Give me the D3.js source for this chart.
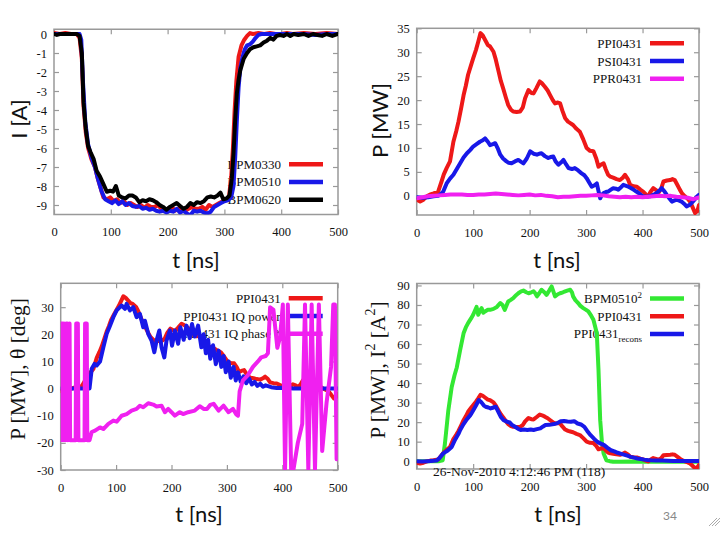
<!DOCTYPE html>
<html><head><meta charset="utf-8">
<script src="https://cdn.jsdelivr.net/npm/d3@7"></script>
<style>body{margin:0;background:#fff}svg{display:block}</style>
</head><body><svg id="c" width="720" height="540"></svg>
<script>
// ---------- data ----------
const xTicks = [0,100,200,300,400,500];
const yTicks1 = [0,-1,-2,-3,-4,-5,-6,-7,-8,-9];
const yTicks2 = [0,5,10,15,20,25,30,35];
const yTicks3 = [-30,-20,-10,0,10,20,30];
const yTicks4 = [0,10,20,30,40,50,60,70,80,90];

// Panel 1: I [A]
const bpm0330 = [[0,0.05],[10,0],[20,0.05],[30,0],[40,0],[45,-0.2],[49,-1.3],[52,-3.8],[56,-5.2],[60,-6],[66,-6.6],[72,-7],[77,-7.6],[82,-8.1],[87,-8.6],[93,-8.7],[99,-8.6],[105,-8.8],[111,-8.7],[117,-8.9],[123,-8.8],[129,-9.0],[135,-8.9],[141,-9.0],[147,-9.1],[153,-9.0],[159,-9.15],[165,-9.0],[171,-9.1],[177,-9.1],[183,-9.0],[189,-9.2],[195,-9.25],[201,-9.2],[207,-9.1],[213,-9.3],[219,-9.2],[225,-9.15],[231,-9.3],[237,-9.2],[243,-9.1],[249,-9.2],[255,-9.2],[261,-9.1],[267,-9.25],[273,-9.0],[279,-9.1],[285,-9.0],[291,-8.9],[297,-8.8],[303,-8.7],[308,-8.6],[312,-7.5],[315,-6],[318,-4],[321,-2.5],[325,-1.2],[330,-0.6],[335,-0.3],[340,-0.1],[345,0.05],[350,0],[360,0.05],[370,0],[380,0.05],[390,0],[400,0],[410,0.05],[420,0],[440,0.05],[460,0],[480,0.05],[500,0]];
const bpm0510 = [[0,0],[20,0],[45,0],[48,-0.3],[51,-2.5],[55,-4.6],[60,-5.8],[66,-6.5],[72,-7],[78,-7.7],[84,-8.3],[90,-8.7],[96,-8.8],[102,-8.9],[108,-8.75],[114,-8.95],[120,-8.8],[126,-9.0],[132,-8.9],[138,-9.05],[144,-9.1],[150,-9.05],[156,-9.2],[162,-9.15],[168,-9.25],[174,-9.2],[180,-9.3],[186,-9.35],[192,-9.3],[198,-9.4],[204,-9.3],[210,-9.35],[216,-9.2],[222,-9.4],[228,-9.3],[234,-9.45],[240,-9.55],[246,-9.3],[252,-9.35],[258,-9.3],[264,-9.4],[270,-9.45],[276,-9.35],[282,-9.1],[288,-9.0],[294,-8.9],[300,-8.8],[306,-8.75],[312,-8.6],[316,-8],[319,-6.5],[322,-4.5],[325,-2.8],[328,-1.8],[332,-1.2],[336,-0.8],[340,-0.6],[345,-0.55],[350,-0.4],[355,-0.2],[360,-0.05],[365,0],[380,0],[400,0],[420,0],[440,0],[460,-0.05],[480,0],[500,0]];
const bpm0620 = [[0,0],[5,-0.05],[10,0],[20,0],[30,0],[40,0],[45,-0.1],[49,-1],[52,-3.6],[56,-5],[60,-5.9],[64,-6.2],[70,-6.6],[75,-7.2],[81,-7.5],[87,-7.9],[93,-8.3],[99,-8.25],[104,-8.3],[109,-8.0],[114,-8.5],[120,-8.6],[126,-8.65],[132,-8.5],[138,-8.5],[144,-8.6],[150,-8.85],[156,-8.75],[162,-8.8],[168,-8.7],[174,-8.75],[180,-8.85],[186,-9.0],[192,-9.1],[198,-9.25],[204,-9.1],[210,-9.0],[216,-8.9],[222,-9.05],[228,-9.2],[234,-9.1],[240,-8.9],[246,-9.0],[252,-8.85],[258,-8.9],[264,-8.8],[270,-8.6],[276,-8.55],[282,-8.6],[288,-8.5],[293,-8.35],[298,-8.7],[304,-8.65],[309,-8.5],[313,-7.6],[316,-6.3],[319,-4.5],[322,-3.1],[325,-2.4],[328,-1.9],[334,-1.3],[340,-1.0],[345,-0.8],[351,-0.7],[357,-0.65],[363,-0.6],[369,-0.45],[375,-0.35],[381,-0.2],[386,-0.3],[392,-0.1],[398,-0.05],[404,-0.1],[410,0],[416,-0.1],[422,0],[430,-0.05],[440,0],[448,-0.1],[456,0],[464,-0.05],[472,-0.1],[480,0],[490,-0.1],[500,0]];

// Panel 2: P [MW]
const ppi0431 = [[0,-0.8],[6,-1.2],[12,-0.8],[18,-0.1],[24,0.3],[30,0.5],[38,0.9],[44,3],[48,4.5],[53,5.8],[59,7.2],[65,11.3],[70,13.5],[74,15.5],[79,18.5],[83,21],[87,23],[91,25.3],[96,27.2],[100,28.7],[105,30.5],[109,32.2],[113,34],[117,33.5],[121,32.6],[126,31.5],[130,31.2],[136,30.1],[140,28.5],[145,26],[149,24],[153,22.5],[158,20.5],[162,19],[167,18],[171,17.6],[177,17.5],[183,17.6],[188,18.5],[192,20.4],[198,22.1],[203,21.5],[207,21.4],[212,22.5],[218,23.9],[222,23.5],[227,22.8],[232,22],[236,21.1],[241,20],[245,19.3],[250,19.5],[254,19.3],[258,17.8],[263,16.2],[268,15.5],[272,15.2],[277,14.8],[283,14],[289,13.4],[295,11.8],[301,10],[307,9.4],[313,9.3],[318,7.8],[322,6.1],[326,6.5],[331,6.8],[335,5.5],[339,4.4],[343,4],[348,3.8],[354,3.5],[360,3.3],[365,3.8],[369,4.4],[374,3.5],[378,2.3],[384,2],[390,1.9],[396,1.3],[401,0.9],[406,0.3],[410,-0.1],[414,0.8],[419,1.6],[424,1.2],[428,0.6],[433,1.5],[437,3],[443,3.2],[449,3.3],[453,3.5],[457,3.3],[462,2.2],[466,1.3],[470,0.5],[475,-0.1],[480,-0.6],[484,-1.2],[488,-2.2],[493,-3.6],[497,-3.2],[500,-1.9]];
const psi0431 = [[0,-0.3],[10,-0.4],[20,-0.3],[30,-0.1],[38,0],[43,0.4],[47,0.9],[53,2.6],[59,3.6],[65,4.4],[71,5.6],[77,6.8],[83,8],[89,8.9],[95,9.6],[100,10.3],[106,10.8],[112,11.3],[117,11.6],[121,12],[126,11.3],[130,10.6],[135,10.8],[139,11],[144,9.8],[148,8.6],[153,7.8],[159,7.2],[163,6.9],[168,6.8],[174,7.2],[180,7.5],[185,7.1],[189,6.8],[195,7.8],[201,9.3],[207,8.8],[213,8.6],[217,8.8],[221,8.9],[227,8.3],[233,7.9],[237,8.1],[242,8.2],[246,7.2],[251,6.5],[256,7],[260,7.5],[265,6.5],[269,5.8],[275,5.6],[280,5.8],[286,5.3],[292,4.7],[297,4.3],[301,3.7],[306,2.7],[310,1.9],[315,2.2],[319,2.6],[322,1],[325,-0.5],[328,0.2],[331,0.6],[335,0.8],[339,0.9],[344,1.3],[348,1.6],[353,1.5],[357,1.3],[362,1.8],[366,2.3],[371,2.1],[375,1.9],[380,1.6],[384,1.3],[389,0.9],[393,0.6],[397,0.2],[401,-0.1],[407,-0.2],[413,-0.1],[419,0.2],[425,0.6],[430,1.1],[434,1.6],[439,0.9],[443,0.2],[448,-0.6],[452,-1.2],[456,-1],[460,-0.8],[465,-1],[469,-1.2],[474,-1.7],[478,-2.2],[483,-1.9],[487,-1.5],[492,-0.8],[496,-0.2],[500,0.2]];
const ppr0431 = [[0,-0.5],[10,-0.3],[20,-0.1],[30,0],[40,0.1],[50,0.2],[60,0.3],[70,0.3],[80,0.3],[90,0.2],[100,0.2],[110,0.3],[120,0.3],[130,0.4],[140,0.5],[150,0.4],[160,0.3],[170,0.2],[180,0.1],[190,0.2],[200,0.3],[210,0.1],[220,0.2],[230,0],[240,-0.1],[250,-0.3],[260,-0.2],[270,-0.2],[280,-0.1],[290,0],[300,0],[310,0.1],[320,0.2],[330,0.1],[340,-0.1],[350,-0.2],[360,-0.3],[370,-0.2],[380,-0.3],[390,-0.2],[400,-0.3],[410,-0.2],[420,-0.1],[430,0],[440,-0.1],[450,0],[460,-0.2],[470,-0.3],[480,-0.4],[490,-0.7],[500,-0.3]];

// Panel 3: IQ power / phase
const iqPower = [[0,0],[20,0],[40,0],[52,0],[56,7.3],[61,9.1],[65,8.5],[71,10],[77,15.2],[83,20.2],[89,23.2],[95,26.3],[101,28.8],[107,30],[110,30.6],[116,29.4],[119,31.2],[125,28.8],[131,30],[137,26.3],[143,27.5],[149,22.6],[152,25],[158,20.2],[164,17.7],[169,13.4],[173,17.7],[178,21.4],[182,15.2],[187,11.5],[191,17.7],[197,21.4],[201,15.8],[206,21.4],[212,16.5],[216,22.6],[222,18],[227,23.2],[233,18.6],[237,23.8],[242,19.2],[248,23.2],[254,15.2],[258,20],[262,13],[266,18],[270,11],[275,16],[280,9],[285,14],[290,8],[294,12],[298,6],[303,10],[307,4],[312,8],[316,3],[320,6],[325,2.5],[330,4.5],[335,2],[340,3.8],[345,1.5],[350,2.5],[355,1],[360,1.8],[365,0.7],[370,1.2],[380,0.5],[390,0.2],[400,0.3],[420,0],[450,0],[500,0]];
const iqPhase = [[0,-19],[1,24],[3,24],[4,-19],[6,24],[8,-19],[10,24],[12,24],[13,-19],[16,24],[17,-19],[27,-19],[28,24],[31,24],[32,-19],[43,-19],[44,24],[47,24],[48,-19],[52,-19],[56,-16],[62,-15.5],[71,-14.3],[77,-14.9],[86,-13],[95,-11.8],[101,-12.2],[110,-10],[119,-9.4],[128,-8.1],[137,-7.5],[143,-6.3],[149,-6.9],[158,-5.4],[167,-5.9],[173,-6.6],[182,-6.3],[188,-8.7],[194,-7.5],[200,-8.7],[206,-10],[215,-8.7],[221,-9.4],[230,-8.7],[242,-8.1],[251,-6.5],[258,-7.5],[264,-7.5],[270,-6],[276,-5.6],[285,-8.1],[294,-6.3],[303,-8.7],[311,-7.5],[317,-9.5],[320,-10],[323,-1],[329,3],[338,5],[347,8],[356,10],[362,11.5],[370,12],[374,13],[378,30],[384,29],[391,15],[396,19],[401,31],[405,-30],[410,31],[416,-30],[420,-30],[428,-20],[436,-13],[441,31],[447,-30],[453,31],[459,-30],[466,31],[472,-23],[480,-5],[488,8],[492,31],[495,31],[498,-26],[500,-26]];

// Panel 4
const bpm0510sq = [[0,0],[20,0],[40,0],[46,0.5],[50,9],[56,26],[62,38],[67,44],[71,48],[77,57],[83,65.5],[87,68.5],[91,70.7],[96,73],[100,75],[106,79],[109,75],[112,77],[115,78.4],[118,76],[121,76.7],[126,77.5],[130,77.5],[136,78],[142,79],[148,81],[152,80],[156,77.5],[162,81.8],[166,82.5],[171,83.5],[176,85],[180,86],[185,87],[189,87.4],[194,86.5],[198,86],[203,86.5],[207,87],[210,86],[213,84.4],[217,86],[221,87.8],[226,86.5],[230,85.2],[235,87.5],[239,89.5],[242,87],[245,84.4],[250,85.5],[254,86],[259,86.5],[263,87],[268,87.5],[272,87.8],[275,86.5],[277,84.4],[281,82.5],[286,81],[290,79.5],[295,78.4],[300,77.5],[304,76.7],[309,74.5],[313,72.4],[316,69],[319,65.5],[322,46.7],[325,21],[328,10],[331,4],[336,0.5],[342,0],[348,-0.3],[360,-0.3],[380,-0.2],[400,-0.3],[420,-0.2],[440,-0.3],[460,-0.2],[480,-0.3],[500,-0.3]];
const ppiRecons = [[0,0],[10,-0.2],[20,0],[30,0.2],[35,0.3],[40,1.5],[47,4],[55,5.5],[62,7.3],[68,11],[74,14],[77,16],[83,19],[89,21.5],[95,23.6],[100,26],[105,28.5],[110,31.3],[115,30],[119,28.5],[122,27.9],[127,27.5],[131,27],[136,27.5],[140,27.9],[145,25],[149,22.7],[154,21],[160,20.2],[165,19.8],[169,18.5],[175,17.5],[180,16.5],[184,16],[190,16.2],[196,16],[202,16.2],[207,16],[213,16.4],[219,16.8],[224,17.8],[228,18.5],[235,18.6],[243,19],[249,19.5],[255,20.5],[261,20.6],[267,20.3],[273,20.2],[279,20.5],[285,19.3],[291,18.8],[297,17.6],[302,15.5],[308,13.3],[314,11.5],[320,9.9],[326,9],[332,8.2],[338,6.8],[344,5.6],[350,5],[356,4.3],[361,3.9],[367,3.4],[373,2.8],[379,2.2],[385,1.8],[391,1.4],[397,1.1],[403,0.8],[409,0.6],[415,0.5],[425,0.4],[435,0.3],[445,0.2],[455,0.1],[465,0.1],[475,0.1],[490,0.1],[500,0.1]];

// ---------- drawing ----------
const RED = '#ee1818', BLUE = '#1818e8', MAG = '#f020f0', GRN = '#33e833', BLK = '#000';
const svg = d3.select('#c');
const SERIF = 'Liberation Serif, Times New Roman, serif';
const SANS = 'Lato, Open Sans, sans-serif';

function panel(cfg) {
  const x = d3.scaleLinear().domain([0, 500]).range([cfg.left, cfg.right]);
  const y = d3.scaleLinear().domain(cfg.ydom).range([cfg.bottom, cfg.top]);
  const g = svg.append('g');
  const cid = 'clip' + cfg.id;
  g.append('clipPath').attr('id', cid).append('rect')
    .attr('x', cfg.left).attr('y', cfg.top)
    .attr('width', cfg.right - cfg.left).attr('height', cfg.bottom - cfg.top);
  const st = sel => {
    sel.select('.domain').remove();
    sel.selectAll('line').attr('stroke', '#999').attr('stroke-width', 1.2);
    sel.selectAll('text').attr('font-family', SERIF).attr('font-size', 12.5).attr('fill', '#111');
  };
  g.append('g').attr('transform', `translate(0,${cfg.bottom})`)
    .call(d3.axisBottom(x).tickValues(xTicks).tickFormat(String).tickSizeInner(-5).tickSizeOuter(0).tickPadding(13)).call(st);
  g.append('g').attr('transform', `translate(0,${cfg.top})`)
    .call(d3.axisTop(x).tickValues(xTicks).tickFormat('').tickSizeInner(-5).tickSizeOuter(0)).call(st);
  g.append('g').attr('transform', `translate(${cfg.left},0)`)
    .call(d3.axisLeft(y).tickValues(cfg.yticks).tickFormat(String).tickSizeInner(-5).tickSizeOuter(0).tickPadding(7)).call(st);
  g.append('g').attr('transform', `translate(${cfg.right},0)`)
    .call(d3.axisRight(y).tickValues(cfg.yticks).tickFormat('').tickSizeInner(-5).tickSizeOuter(0)).call(st);
  g.append('rect').attr('x', cfg.left).attr('y', cfg.top)
    .attr('width', cfg.right - cfg.left).attr('height', cfg.bottom - cfg.top)
    .attr('fill', 'none').attr('stroke', '#999').attr('stroke-width', 1.5);

  // legend texts
  cfg.series.forEach((s, i) => {
    const ly = cfg.top + cfg.legTop + i * 17.7;
    const t = g.append('text').attr('x', cfg.right - 57).attr('y', ly + 4.5)
      .attr('text-anchor', 'end').attr('font-family', SERIF).attr('font-size', 13).attr('fill', '#111');
    s.label.forEach(part => {
      const ts = t.append('tspan').text(part.t);
      if (part.sup) ts.attr('dy', -5).attr('font-size', 9);
      if (part.sub) ts.attr('dy', 4).attr('font-size', 9);
    });
  });
  // samples + curves
  const line = d3.line().x(d => x(d[0])).y(d => y(d[1])).curve(d3.curveLinear);
  cfg.series.forEach((s, i) => {
    const ly = cfg.top + cfg.legTop + i * 17.7;
    g.append('line').attr('x1', cfg.right - 49).attr('x2', cfg.right - 15)
      .attr('y1', ly).attr('y2', ly).attr('stroke', s.color).attr('stroke-width', 4.5);
    g.append('path').datum(s.data).attr('d', line).attr('fill', 'none')
      .attr('stroke', s.color).attr('stroke-width', s.w || 4)
      .attr('stroke-linejoin', 'round').attr('stroke-linecap', 'round')
      .attr('clip-path', `url(#${cid})`);
  });
  return g;
}

panel({id: 1, left: 54, right: 338, top: 29.25, bottom: 214.5, ydom: [-9.5, 0.25], yticks: yTicks1, legTop: 135,
  series: [
    {label: [{t: 'BPM0330'}], color: RED, data: bpm0330},
    {label: [{t: 'BPM0510'}], color: BLUE, data: bpm0510},
    {label: [{t: 'BPM0620'}], color: BLK, data: bpm0620}
  ]});
panel({id: 2, left: 416.7, right: 699, top: 28.3, bottom: 215, ydom: [-4, 35], yticks: yTicks2, legTop: 15,
  series: [
    {label: [{t: 'PPI0431'}], color: RED, data: ppi0431},
    {label: [{t: 'PSI0431'}], color: BLUE, data: psi0431},
    {label: [{t: 'PPR0431'}], color: MAG, data: ppr0431}
  ]});
panel({id: 3, left: 60.7, right: 337.7, top: 283.3, bottom: 470, ydom: [-30, 38.8], yticks: yTicks3, legTop: 15,
  series: [
    {label: [{t: 'PPI0431'}], color: RED, data: ppi0431},
    {label: [{t: 'PPI0431 IQ power'}], color: BLUE, data: iqPower},
    {label: [{t: 'PPI0431 IQ phase *'}], color: MAG, data: iqPhase}
  ]});
panel({id: 4, left: 416.7, right: 699, top: 283.5, bottom: 469, ydom: [-4, 91], yticks: yTicks4, legTop: 15,
  series: [
    {label: [{t: 'BPM0510'}, {t: '2', sup: true}], color: GRN, data: bpm0510sq},
    {label: [{t: 'PPI0431'}], color: RED, data: ppi0431},
    {label: [{t: 'PPI0431'}, {t: 'recons', sub: true}], color: BLUE, data: ppiRecons}
  ]});

// axis titles
function vtitle(x, y, font, size, parts) {
  const t = svg.append('text').attr('transform', `translate(${x},${y}) rotate(-90)`)
    .attr('text-anchor', 'middle').attr('dominant-baseline', 'central')
    .attr('font-family', font).attr('font-size', size).attr('fill', '#111');
  parts.forEach(p => {
    const ts = t.append('tspan').text(p.t);
    if (p.dy) ts.attr('dy', p.dy);
    if (p.fs) ts.attr('font-size', p.fs);
  });
}
vtitle(17.5, 119, SANS, 22, [{t: 'I [A]'}]);
vtitle(378.5, 120.5, SANS, 22, [{t: 'P [MW]'}]);
vtitle(17.5, 369, SERIF, 21.5, [{t: 'P [MW],  θ [deg]'}]);
vtitle(378, 370, SERIF, 21.5, [{t: 'P [MW], I'}, {t: '2', dy: -8, fs: 14}, {t: ' [A', dy: 8}, {t: '2', dy: -8, fs: 14}, {t: ']', dy: 8}]);

[[196, 259], [557, 259], [199, 513], [558, 513]].forEach(p => {
  svg.append('text').attr('x', p[0]).attr('y', p[1]).attr('text-anchor', 'middle')
    .attr('dominant-baseline', 'central').attr('font-family', SANS).attr('font-size', 22)
    .attr('fill', '#111').text('t [ns]');
});

svg.append('text').attr('x', 433).attr('y', 476).attr('font-family', SERIF).attr('font-size', 13.5)
  .attr('fill', '#111').text('26-Nov-2010 4:12:46 PM (118)');
svg.append('text').attr('x', 670).attr('y', 515).attr('text-anchor', 'middle').attr('dominant-baseline', 'central')
  .attr('font-family', SANS).attr('font-size', 12).attr('fill', '#888').text('34');
[0, 3, 6].forEach(o => {
  svg.append('line').attr('x1', 709 + o).attr('y1', 526).attr('x2', 717 + o).attr('y2', 518 - 0)
    .attr('stroke', '#aaa').attr('stroke-width', 1);
});
</script></body></html>
